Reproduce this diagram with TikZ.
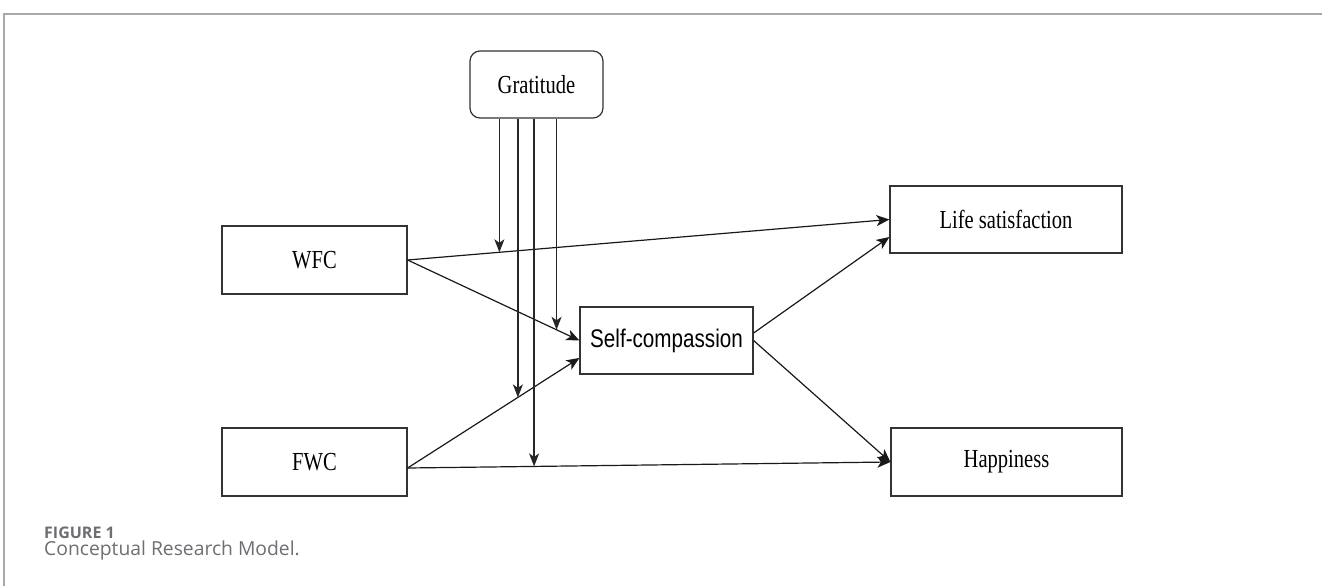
\documentclass[tikz,border=0pt]{standalone}
\usepackage{fontspec}
\setmainfont{Liberation Serif}
\newfontfamily\boxserif[FakeStretch=0.79]{Liberation Serif}
\newfontfamily\boxsans[FakeStretch=0.81]{Liberation Sans}
\newfontfamily\capfont{Open Sans}
\usetikzlibrary{arrows.meta}
\definecolor{framegray}{HTML}{A8A8A8}
\definecolor{capgray}{HTML}{6D6E71}
\definecolor{boxline}{HTML}{333333}
\begin{document}
\begin{tikzpicture}[x=1pt,y=-1pt,
  box/.style={draw=boxline,line width=1.2pt,inner sep=0pt,font=\boxserif\fontsize{26}{30}\selectfont},
  conn/.style={line width=1.2pt,draw=black!90,-{Stealth[length=13pt,width=11pt,inset=3.5pt]}},
  modline/.style={line width=1.2pt,draw=black!85,-{Stealth[length=13pt,width=10pt,inset=3.5pt]}}]
\useasboundingbox (0,0) rectangle (1322,586);
% frame
\draw[framegray,line width=1.5pt] (4,586) -- (4,14) -- (1322,14);
% nodes
\node[box,rounded corners=10pt,minimum width=133pt,minimum height=67pt] (grat) at (536.5,84.5) {Gratitude};
\node[box,minimum width=185pt,minimum height=68pt] (wfc) at (314.5,260) {WFC};
\node[box,minimum width=185pt,minimum height=68pt] (fwc) at (314.5,462) {FWC};
\node[box,minimum width=173pt,minimum height=67pt,font=\boxsans\fontsize{25.5}{30}\selectfont] (sc) at (666.5,340.5) {Self-compassion};
\node[box,minimum width=232pt,minimum height=67pt] (ls) at (1006,219.5) {Life satisfaction};
\node[box,minimum width=231pt,minimum height=68pt] (hap) at (1006.5,462) {Happiness};
% exit points
\coordinate (wfcout) at (wfc.east);
\coordinate (fwcout) at ([yshift=-6pt]fwc.east);
% connectors
\draw[conn] (wfcout) -- coordinate[pos=0.1905] (m1) (ls.west);
\draw[conn] (wfcout) -- coordinate[pos=0.867] (m4) (sc.west);
\draw[conn] (fwcout) -- coordinate[pos=0.642] (m2) ([yshift=-17.5pt]sc.west);
\draw[conn] (fwcout) -- coordinate[pos=0.262] (m3) (hap.west);
\draw[conn] ([yshift=7.5pt]sc.east) -- ([yshift=-17.5pt]ls.west);
\draw[conn] (sc.east) -- (hap.west);
% moderation lines
\draw[modline] (m1 |- grat.south) -- (m1);
\draw[modline] (m2 |- grat.south) -- (m2);
\draw[modline] (m3 |- grat.south) -- (m3);
\draw[modline] (m4 |- grat.south) -- (m4);
% caption
\node[anchor=base west,inner sep=0pt,text=capgray,font=\capfont\bfseries\fontsize{16}{18}\selectfont] (figlab) at (44,538) {FIGURE 1};
\node[anchor=base west,inner sep=0pt,text=capgray,font=\capfont\fontsize{19.3}{22}\selectfont] (figcap) at (44,555) {Conceptual Research Model.};
\end{tikzpicture}
\end{document}
